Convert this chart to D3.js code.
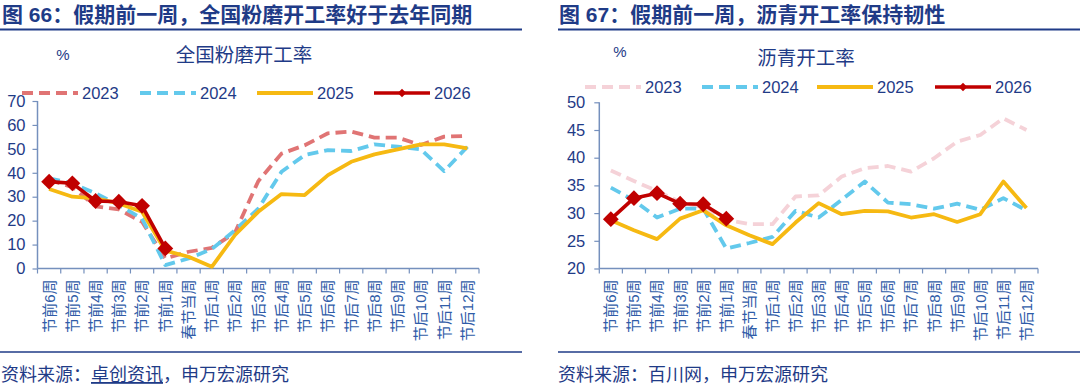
<!DOCTYPE html>
<html><head><meta charset="utf-8">
<script src="https://cdn.jsdelivr.net/npm/d3@7/dist/d3.min.js"></script>
<style>
html,body{margin:0;padding:0;background:#fff;}
svg{display:block;}
text{font-family:"Liberation Sans","Noto Sans CJK SC",sans-serif;}
</style></head>
<body>
<svg id="c" width="1080" height="386"></svg>
<script>
const categories = ["节前6周","节前5周","节前4周","节前3周","节前2周","节前1周","春节当周",
  "节后1周","节后2周","节后3周","节后4周","节后5周","节后6周","节后7周","节后8周","节后9周","节后10周","节后11周","节后12周"];

// 全国粉磨开工率 (%)
const cement2023 = [37, 34, 26, 24.7, 19.5, 4.2, 7, 8.6, 15, 36.5, 48, 51.5, 56.5, 57.2, 54.7, 54.7, 51.6, 55.1, 55.4];
const cement2024 = [37.7, 35.5, 31.4, 26.5, 20.9, 1.4, 4.2, 8.1, 16, 25, 40.4, 47.4, 49.5, 49.1, 51.9, 50.9, 49.8, 40.7, 50.9];
const cement2025 = [33.2, 30, 29.3, 27.2, 23.7, 7.5, 4.9, 0.7, 14, 23.7, 31.1, 30.7, 39, 44.6, 47.7, 49.8, 51.9, 51.9, 50.2];
const cement2026 = [36.3, 35.6, 28.2, 27.9, 26.2, 8.4];
const cementTicks = [0, 10, 20, 30, 40, 50, 60, 70];

// 沥青开工率 (%)
const asphalt2023 = [37.7, 35.8, 34, 32, 31, 28.8, 28, 28, 33, 33.2, 36.6, 38.1, 38.5, 37.5, 39.9, 42.9, 44.1, 47.1, 45];
const asphalt2024 = [34.6, 32.3, 29.2, 30.8, 30.8, 23.6, 24.6, 25.7, 30.4, 29.2, 32.4, 35.7, 31.9, 31.6, 30.8, 31.7, 30.6, 32.7, 30.5];
const asphalt2025 = [28.7, 26.9, 25.3, 29.0, 30.5, 27.8, 26.0, 24.4, 28.3, 31.8, 29.8, 30.4, 30.3, 29.2, 29.8, 28.4, 29.8, 35.7, 30.9];
const asphalt2026 = [28.9, 32.7, 33.6, 31.7, 31.6, 29.0];
const asphaltTicks = [20, 25, 30, 35, 40, 45, 50];

const seriesNames = ["2023", "2024", "2025", "2026"];

const NAVY = "#1f3b87";
const AXIS = "#7590bd";
const XLAB = "#2f5ca8";

const svg = d3.select("#c");

function panel(o) {
  const g = svg.append("g");
  // header
  g.append("text").attr("x", o.hx).attr("y", 22).attr("font-size", 21).attr("font-weight", "bold")
    .attr("fill", NAVY).attr("font-family", "Noto Sans CJK SC").text(o.header);
  g.append("line").attr("x1", o.rx1).attr("x2", o.rx2).attr("y1", 29.5).attr("y2", 29.5)
    .attr("stroke", NAVY).attr("stroke-width", 2);
  g.append("line").attr("x1", o.rx1).attr("x2", o.rx2).attr("y1", 352).attr("y2", 352)
    .attr("stroke", NAVY).attr("stroke-width", 1.5);
  // source
  const src = g.append("text").attr("x", o.hx - 1).attr("y", 381).attr("font-size", 18)
    .attr("fill", NAVY).attr("font-family", "Noto Sans CJK SC");
  o.source.forEach(s => {
    const t = src.append("tspan").text(s.t);
    if (s.u) t.attr("text-decoration", "underline");
  });
  // unit & chart title
  g.append("text").attr("x", o.px).attr("y", o.py).attr("font-size", 15).attr("fill", NAVY)
    .attr("text-anchor", "middle").attr("dy", "0.35em").text("%");
  g.append("text").attr("x", o.tx).attr("y", o.ty).attr("font-size", 19.5).attr("fill", NAVY)
    .attr("font-family", "Noto Sans CJK SC").attr("text-anchor", "middle").attr("dy", "0.36em").text(o.title);

  const x = d3.scaleBand().domain(categories).range([o.x0, o.x1]);
  const y = d3.scaleLinear().domain(o.domain).range([o.y0, o.y1]);

  // y axis
  const ya = g.append("g").attr("transform", `translate(${o.x0},0)`)
    .call(d3.axisLeft(y).tickValues(o.ticks).tickSize(5).tickPadding(o.pad).tickFormat(d3.format("d")));
  ya.select(".domain").attr("stroke", AXIS).attr("stroke-width", 1.5).attr("d", `M-0,${o.y0}V${o.y1}`);
  ya.selectAll(".tick line").attr("stroke", AXIS).attr("stroke-width", 1.2);
  ya.selectAll(".tick text").attr("font-size", 16.5).attr("fill", NAVY).attr("font-family", "Liberation Sans");

  // x axis: ticks at band boundaries
  const xa = g.append("g").attr("transform", `translate(0,${o.y0})`);
  xa.append("line").attr("x1", o.x0).attr("x2", o.x1).attr("stroke", AXIS).attr("stroke-width", 1.5);
  const bounds = categories.map(c => x(c)).concat([x(categories[categories.length - 1]) + x.bandwidth()]);
  xa.selectAll("line.tk").data(bounds).join("line").attr("class", "tk")
    .attr("x1", d => d).attr("x2", d => d).attr("y1", 0).attr("y2", 5)
    .attr("stroke", AXIS).attr("stroke-width", 1.2);
  xa.selectAll("text.lab").data(categories).join("text").attr("class", "lab")
    .attr("transform", d => `translate(${x(d) + x.bandwidth() / 2},11) rotate(-90)`)
    .attr("text-anchor", "end").attr("dy", "0.36em").attr("font-size", 15)
    .attr("fill", XLAB).attr("font-family", "Noto Sans CJK SC").text(d => d);

  const line = d3.line().x((d, i) => x(categories[i]) + x.bandwidth() / 2).y(d => y(d));
  const styles = o.styles;
  o.series.forEach((data, k) => {
    const s = styles[k];
    g.append("path").datum(data).attr("d", line).attr("fill", "none")
      .attr("stroke", s.color).attr("stroke-width", s.w)
      .attr("stroke-dasharray", s.dash || null).attr("stroke-linejoin", "round");
    if (s.marker) {
      g.selectAll(null).data(data).join("path")
        .attr("d", d3.symbol(d3.symbolDiamond2, 160)())
        .attr("transform", (d, i) => `translate(${x(categories[i]) + x.bandwidth() / 2},${y(d)})`)
        .attr("fill", s.color);
    }
  });

  // legend
  seriesNames.forEach((n, k) => {
    const s = styles[k];
    const lx = o.lx[k], ly = o.ly;
    g.append("line").attr("x1", lx).attr("x2", lx + 56).attr("y1", ly).attr("y2", ly)
      .attr("stroke", s.color).attr("stroke-width", s.w).attr("stroke-dasharray", s.dash || null);
    if (s.marker) {
      g.append("path").attr("d", d3.symbol(d3.symbolDiamond2, 45)())
        .attr("transform", `translate(${lx + 28},${ly})`).attr("fill", s.color);
    }
    g.append("text").attr("x", lx + 60).attr("y", ly).attr("dy", "0.36em").attr("font-size", 16.5)
      .attr("fill", NAVY).attr("font-family", "Liberation Sans").text(n);
  });
}

panel({
  header: "图 66：假期前一周，全国粉磨开工率好于去年同期",
  hx: 2, rx1: 0, rx2: 522,
  source: [{t: "资料来源："}, {t: "卓创资讯", u: true}, {t: "，申万宏源研究"}],
  px: 63, py: 55, tx: 244, ty: 55, title: "全国粉磨开工率",
  x0: 37.5, x1: 479, y0: 268.5, y1: 101, domain: [0, 70], ticks: cementTicks, pad: 7,
  series: [cement2023, cement2024, cement2025, cement2026],
  styles: [
    {color: "#e07474", w: 3.8, dash: "11,6"},
    {color: "#63c9ec", w: 3.8, dash: "11,6"},
    {color: "#f6b912", w: 3.8},
    {color: "#c00000", w: 3.6, marker: true}
  ],
  lx: [22, 140, 257, 374], ly: 93
});

panel({
  header: "图 67：假期前一周，沥青开工率保持韧性",
  hx: 559, rx1: 558, rx2: 1080,
  source: [{t: "资料来源：百川网，申万宏源研究"}],
  px: 620, py: 52, tx: 806, ty: 58, title: "沥青开工率",
  x0: 599.3, x1: 1038, y0: 268.5, y1: 102.3, domain: [20, 50], ticks: asphaltTicks, pad: 9,
  series: [asphalt2023, asphalt2024, asphalt2025, asphalt2026],
  styles: [
    {color: "#f5d2d8", w: 3.8, dash: "11,6"},
    {color: "#63c9ec", w: 3.8, dash: "11,6"},
    {color: "#f6b912", w: 3.8},
    {color: "#c00000", w: 3.6, marker: true}
  ],
  lx: [585, 702, 817, 935], ly: 87
});
</script>
</body></html>
